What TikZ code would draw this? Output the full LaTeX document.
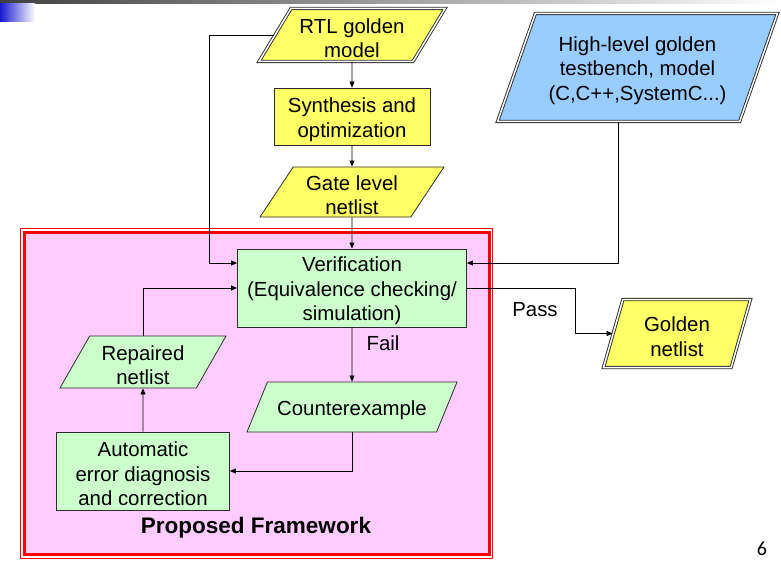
\documentclass[tikz,border=0pt]{standalone}
\usepackage{fontspec}
\setmainfont{Liberation Sans}
\newfontfamily\slidenumfont{Carlito}
\usetikzlibrary{arrows.meta, positioning, calc, shapes.geometric}
\definecolor{GoldFill}{HTML}{FFFF66}
\definecolor{SkyFill}{HTML}{99CCFF}
\definecolor{MintFill}{HTML}{CCFFCC}
\definecolor{OrchidFill}{HTML}{FFCCFF}
\definecolor{FrameRed}{HTML}{FF0000}
\definecolor{EdgeGray}{HTML}{2B2B2B}
\newcommand{\boxstrut}{\rule{0pt}{21pt}}

\begin{document}
\begin{tikzpicture}[x=1pt, y=-1pt, >={Triangle[length=6pt, width=5pt]},
    every node/.style={font=\fontsize{20.4}{24.5}\selectfont, align=center, inner sep=0pt},
    procbox/.style={draw=EdgeGray, line width=0.8pt, rectangle},
    databox/.style={draw=EdgeGray, line width=0.8pt, trapezium, trapezium stretches body},
    dblborder/.style={line width=0.9pt, double=white, double distance=1.5pt},
    flow/.style={line width=0.8pt, ->}]
    \useasboundingbox (0,0) rectangle (781,561);

    % Slide header
    \shade[left color=black!75, right color=white] (0,0) rectangle (781,4);
    \shade[left color=blue!80!black!90, right color=white] (0,4) rectangle (35,22);

    % Framework frame
    \fill[OrchidFill] (24,232) rectangle (489,554.5);
    \draw[FrameRed, line width=0.7pt] (20.7,228.7) rectangle (492.8,558);
    \draw[FrameRed, line width=3pt] (24.2,232.2) rectangle (489,554.5);
    \node[font=\fontsize{22.5}{26}\selectfont\bfseries] (fwtitle) at (256,528) {Proposed Framework};

    % Golden sources
    \node[databox, dblborder, fill=GoldFill, trapezium left angle=55, trapezium right angle=125,
          minimum width=186, minimum height=53] (rtl) at (352,35) {\boxstrut RTL golden\\model};
    \node[procbox, fill=GoldFill, minimum width=156, minimum height=57] (synth) at (352,116.5)
          {\boxstrut Synthesis and\\optimization};
    \node[databox, fill=GoldFill, trapezium left angle=54, trapezium right angle=126,
          minimum width=184, minimum height=50] (gate) at (352,192) {\boxstrut Gate level\\netlist};
    \node[databox, dblborder, fill=SkyFill, trapezium left angle=63, trapezium right angle=117,
          minimum width=280, minimum height=108] (hlmodel) at (637.5,67.5)
          {\boxstrut High-level golden\\testbench, model\\(C,C++,SystemC...)};

    % Verification loop
    \node[procbox, fill=MintFill, minimum width=229, minimum height=78] (verif) at (352,288)
          {\boxstrut Verification\\(Equivalence checking/\\simulation)};
    \node[databox, fill=MintFill, trapezium left angle=51, trapezium right angle=129,
          minimum width=210, minimum height=50] (cex) at (352,407) {\boxstrut Counterexample};
    \node[procbox, fill=MintFill, minimum width=173, minimum height=78] (diag) at (143,471)
          {\boxstrut Automatic\\error diagnosis\\and correction};
    \node[databox, fill=MintFill, trapezium left angle=57, trapezium right angle=123,
          minimum width=166, minimum height=52] (repaired) at (143,362) {\boxstrut Repaired\\netlist};

    % Result
    \node[databox, dblborder, fill=GoldFill, trapezium left angle=67, trapezium right angle=113,
          minimum width=147, minimum height=68] (golden) at (677,333.5) {\boxstrut Golden\\netlist};
    \node (passlbl) at (535,310) {Pass};
    \node (faillbl) at (383,343) {Fail};

    % Connectors
    \draw[flow] (rtl.south) -- (synth.north);
    \draw[flow] (synth.south) -- (gate.north);
    \draw[flow] (gate.south) -- (verif.north);
    \draw[flow] (rtl.west) -- ++(-65,0) |- ([yshift=25pt]verif.west);
    \coordinate (hlfoot) at ($(hlmodel.bottom left corner)!0.5!(hlmodel.bottom right corner)$);
    \draw[flow] (hlfoot) |- ([yshift=25pt]verif.east);
    \draw[flow] (verif.east) -- ++(108,0) |- (golden.west);
    \draw[flow] (verif.south) -- (cex.north);
    \draw[flow] (cex.south) |- (diag.east);
    \draw[flow] (diag.north) -- (repaired.south);
    \draw[flow] (repaired.north) |- (verif.west);

    % Slide number
    \node[font=\fontsize{20}{24}\slidenumfont] (pagenum) at (762,549) {6};
\end{tikzpicture}
\end{document}
